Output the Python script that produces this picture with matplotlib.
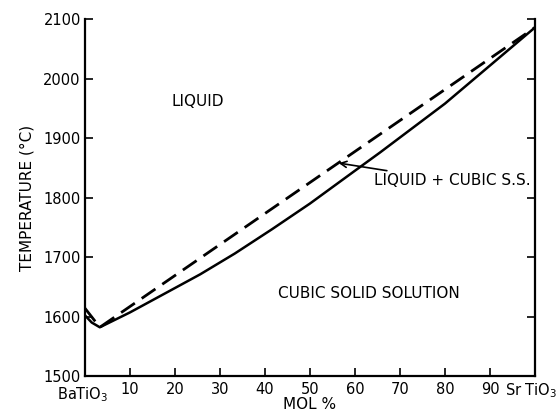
import matplotlib
matplotlib.use("Agg")
import matplotlib.pyplot as plt
from matplotlib.transforms import ScaledTranslation

# Data (mol % SrTiO3, temperature in °C)
liquidus_x = [0, 3.3, 100]
liquidus_t = [1614, 1582, 2086]

solidus_x = [0, 1.5, 3.3, 10, 20, 25.6, 33.3, 41.6, 50, 59.6, 65.6, 80, 100]
solidus_t = [1602, 1590, 1582, 1607, 1648, 1671, 1706, 1747, 1790, 1843, 1876, 1958, 2086]

x_ticks = [0, 10, 20, 30, 40, 50, 60, 70, 80, 90, 100]
x_ticklabels = ["BaTiO$_3$", "10", "20", "30", "40", "50", "60", "70", "80", "90", "Sr TiO$_3$"]
y_ticks = [1500, 1600, 1700, 1800, 1900, 2000, 2100]
y_ticklabels = ["1500", "1600", "1700", "1800", "1900", "2000", "2100"]

fig = plt.figure(figsize=(5.59, 4.16), dpi=100)
ax = fig.add_axes([0.152, 0.096, 0.805, 0.858])

ax.plot(liquidus_x, liquidus_t, color="black", lw=2.0, linestyle=(0, (6, 3)))
ax.plot(solidus_x, solidus_t, color="black", lw=1.8)

ax.set_xlim(0, 100)
ax.set_ylim(1500, 2100)
ax.set_xticks(x_ticks)
ax.set_xticklabels(x_ticklabels, fontsize=10.5)
ax.set_yticks(y_ticks)
ax.set_yticklabels(y_ticklabels, fontsize=10.5)
ax.tick_params(direction="in", length=6, width=1.2, right=True, top=False, pad=3)
ax.tick_params(axis="x", pad=4)
ax.spines["top"].set_visible(False)
for s in ["left", "right", "bottom"]:
    ax.spines[s].set_linewidth(1.6)

labels = ax.get_xticklabels()
labels[0].set_transform(labels[0].get_transform() + ScaledTranslation(-0.02, -0.04, fig.dpi_scale_trans))
labels[-1].set_transform(labels[-1].get_transform() + ScaledTranslation(-0.04, 0, fig.dpi_scale_trans))

ax.set_xlabel("MOL %", fontsize=11)
ax.xaxis.set_label_coords(0.5, -0.081)
ax.xaxis.label.set_va("center")
ax.set_ylabel("TEMPERATURE (°C)", fontsize=11, labelpad=6)

ax.text(19.3, 1962, "LIQUID", fontsize=11, va="center", ha="left")
ax.text(42.9, 1638, "CUBIC SOLID SOLUTION", fontsize=11, va="center", ha="left")
ax.annotate("LIQUID + CUBIC S.S.", xy=(56.4, 1858), xytext=(64.2, 1828),
            fontsize=11, va="center", ha="left",
            arrowprops=dict(arrowstyle="->", color="black", lw=1.2,
                            shrinkA=0, shrinkB=0))

fig.savefig("out.png", dpi=100)
